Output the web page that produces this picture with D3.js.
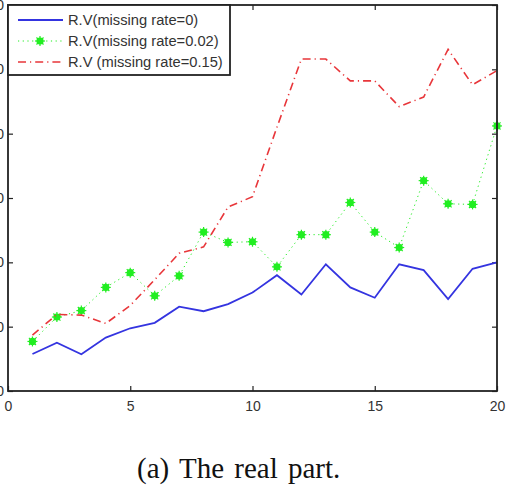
<!DOCTYPE html>
<html>
  <head>
    <meta charset="UTF-8">
    <script src="https://d3js.org/d3.v7.min.js"></script>
    <style type="text/css">
      body { margin: 0px; padding: 0px; background: #fff; }
      svg { display: block; }
    </style>
  </head>
  <body>
    <div id="chart"></div>
    <script>
      // values
      const xs = d3.range(1, 21);
      const rate0 = [0.575, 0.75, 0.57, 0.83, 0.975, 1.06, 1.31, 1.24, 1.35, 1.53,
                     1.80, 1.50, 1.97, 1.61, 1.45, 1.97, 1.88, 1.43, 1.90, 2.00];
      const rate002 = [0.77, 1.15, 1.25, 1.61, 1.84, 1.48, 1.79, 2.47, 2.31, 2.32,
                       1.93, 2.43, 2.43, 2.93, 2.47, 2.23, 3.27, 2.91, 2.90, 4.12];
      const rate015 = [0.87, 1.19, 1.18, 1.05, 1.33, 1.73, 2.14, 2.24, 2.86, 3.02,
                       4.10, 5.16, 5.16, 4.82, 4.82, 4.42, 4.57, 5.31, 4.76, 4.98];
      const xTicks = [0, 5, 10, 15, 20];
      const yTicks = [0, 1, 2, 3, 4, 5, 6];
      const legendLabels = ['R.V(missing rate=0)', 'R.V(missing rate=0.02)', 'R.V (missing rate=0.15)'];
      const caption = '(a) The real part.';

      const width = 514, height = 486;
      const margin = { top: 5, right: 17, bottom: 95, left: 8 };
      const innerW = width - margin.left - margin.right;
      const innerH = height - margin.top - margin.bottom;

      const svg = d3.select('#chart').append('svg')
        .attr('width', width)
        .attr('height', height);

      const g = svg.append('g')
        .attr('transform', `translate(${margin.left},${margin.top})`);

      const x = d3.scaleLinear().domain([0, 20]).range([0, innerW]);
      const y = d3.scaleLinear().domain([0, 6]).range([innerH, 0]);

      const tickFont = '"Liberation Sans", Arial, sans-serif';

      // axes: ticks pointing inward on all four sides
      const styleAxis = (sel) => {
        sel.select('.domain').remove();
        sel.selectAll('line').attr('stroke', '#222').attr('stroke-width', 1.2);
        sel.selectAll('text').attr('font-family', tickFont).attr('font-size', 14).attr('fill', '#333');
      };
      g.append('g').attr('transform', `translate(0,${innerH})`)
        .call(d3.axisBottom(x).tickValues(xTicks).tickSize(-5).tickPadding(10))
        .call(styleAxis);
      g.append('g')
        .call(d3.axisTop(x).tickValues(xTicks).tickSize(-5).tickFormat(''))
        .call(styleAxis);
      // the figure is cropped on the left, so the y labels are only partly visible
      g.append('g')
        .call(d3.axisLeft(y).tickValues(yTicks).tickSize(-5).tickPadding(4))
        .call(styleAxis);
      g.append('g').attr('transform', `translate(${innerW},0)`)
        .call(d3.axisRight(y).tickValues(yTicks).tickSize(-5).tickFormat(''))
        .call(styleAxis);

      const line = d3.line().x((d, i) => x(xs[i])).y(d => y(d));

      const series = [
        { values: rate0, color: '#3434e0', width: 1.8, dash: null, marker: false },
        { values: rate002, color: '#22ee22', width: 1, dash: '1.2,3.5', marker: true },
        { values: rate015, color: '#e8363a', width: 1.6, dash: '8,4,1.2,4', marker: false }
      ];

      const drawStar = (sel, cx, cy, color) => {
        sel.append('circle').attr('cx', cx).attr('cy', cy).attr('r', 3.6).attr('fill', color);
        [0, 45, 90, 135].forEach(a => {
          const r = 5, t = a * Math.PI / 180;
          sel.append('line')
            .attr('x1', cx - r * Math.cos(t)).attr('y1', cy - r * Math.sin(t))
            .attr('x2', cx + r * Math.cos(t)).attr('y2', cy + r * Math.sin(t))
            .attr('stroke', color).attr('stroke-width', 1.2);
        });
      };

      series.forEach(s => {
        g.append('path')
          .datum(s.values)
          .attr('fill', 'none')
          .attr('stroke', s.color)
          .attr('stroke-width', s.width)
          .attr('stroke-dasharray', s.dash)
          .attr('d', line);
        if (s.marker) {
          const mg = g.append('g');
          s.values.forEach((v, i) => drawStar(mg, x(xs[i]), y(v), s.color));
        }
      });

      // frame
      g.append('rect')
        .attr('width', innerW).attr('height', innerH)
        .attr('fill', 'none').attr('stroke', '#222').attr('stroke-width', 1.8);

      // legend
      const legend = g.append('g');
      legend.append('rect')
        .attr('x', 0).attr('y', 0).attr('width', 222).attr('height', 70)
        .attr('fill', '#fff').attr('stroke', '#222').attr('stroke-width', 1.8);
      series.forEach((s, i) => {
        const ly = 15 + i * 21;
        legend.append('line')
          .attr('x1', 10).attr('x2', 55).attr('y1', ly).attr('y2', ly)
          .attr('stroke', s.color).attr('stroke-width', s.width)
          .attr('stroke-dasharray', s.dash);
        if (s.marker) drawStar(legend, 32, ly, s.color);
        legend.append('text')
          .attr('x', 60).attr('y', ly).attr('dy', '0.36em')
          .attr('font-family', tickFont).attr('font-size', 14.7).attr('fill', '#333')
          .text(legendLabels[i]);
      });

      // caption
      svg.append('text')
        .attr('x', 137).attr('y', 478)
        .attr('font-family', '"Liberation Serif", "Times New Roman", serif')
        .attr('font-size', 29).attr('fill', '#111')
        .attr('word-spacing', 3)
        .text(caption);
    </script>
  </body>
</html>
